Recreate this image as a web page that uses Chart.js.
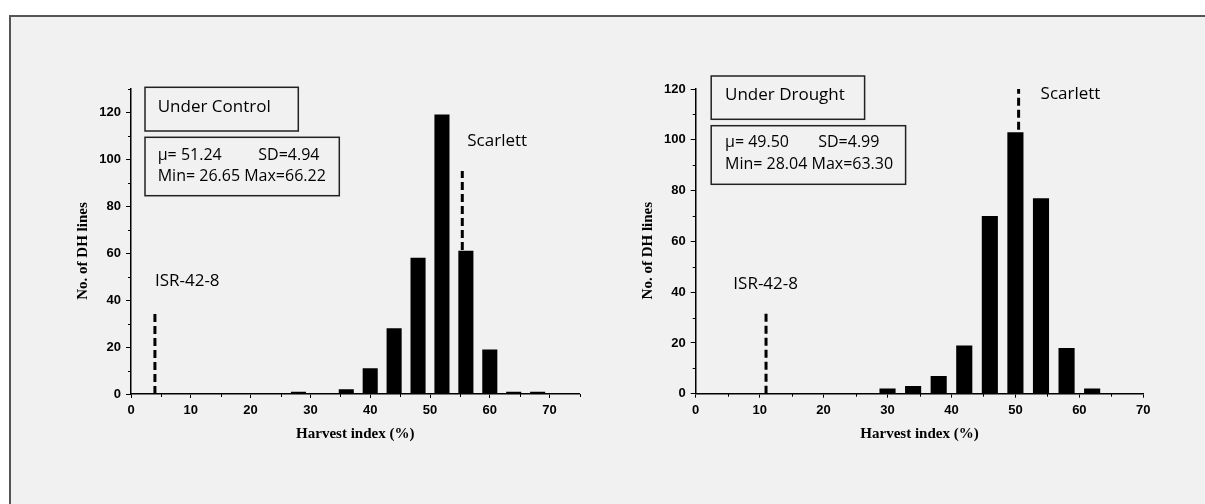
<!DOCTYPE html>
<html>
<head>
<meta charset="utf-8">
<script src="https://cdn.jsdelivr.net/npm/chart.js@4.4.1/dist/chart.umd.min.js"></script>
<style>
  html, body { margin: 0; padding: 0; background: #fff; }
  body { width: 1205px; height: 504px; position: relative; overflow: hidden; }
  #frame {
    position: absolute; left: 9px; top: 15px; right: 0; bottom: 0;
    background: #f1f1f1;
    border-top: 2px solid #555;
    border-left: 2px solid #555;
  }
  canvas { position: absolute; top: 0; }
  #control { left: 0; }
  #drought { left: 600px; }
</style>
</head>
<body>
<div id="frame"></div>
<canvas id="control" width="600" height="504"></canvas>
<canvas id="drought" width="605" height="504"></canvas>
<script>
// harvest index bins (%) and number of DH lines in each
const controlBins = [28, 32, 36, 40, 44, 48, 52, 56, 60, 64, 68];
const controlCounts = [1, 0, 2, 11, 28, 58, 119, 61, 19, 1, 1];
const droughtBins = [30, 34, 38, 42, 46, 50, 54, 58, 62];
const droughtCounts = [2, 3, 7, 19, 70, 103, 77, 18, 2];

// parental lines: harvest index and height of the marker line
const parentNames = ['ISR-42-8', 'Scarlett'];
const controlParentHI = [4, 55.4];
const controlParentTop = [35, 95];
const droughtParentHI = [11, 50.5];
const droughtParentTop = [33, 120];

const controlStats = ['\u03bc= 51.24', 'SD=4.94', 'Min= 26.65 Max=66.22'];
const droughtStats = ['\u03bc= 49.50', 'SD=4.99', 'Min= 28.04 Max=63.30'];

const xTitle = 'Harvest index (%)';
const yTitle = 'No. of DH lines';

const TEXT_FONT = '"Open Sans", sans-serif';
const TICK_FONT = { family: '"Liberation Sans", Arial, sans-serif', size: 13, weight: 'bold' };

function hline(ctx, x1, y1, x2, y2) {
  ctx.beginPath();
  ctx.moveTo(x1, y1);
  ctx.lineTo(x2, y2);
  ctx.stroke();
}

// minor ticks, axis titles, boxed captions and parent labels
const notesPlugin = {
  id: 'notes',
  afterDraw(chart, args, opts) {
    const { ctx, chartArea: area, scales: { x, y } } = chart;
    ctx.save();

    ctx.strokeStyle = '#000';
    ctx.lineWidth = 1;
    for (let v = 5; v <= x.max; v += 10) {
      const px = Math.round(x.getPixelForValue(v)) + 0.5;
      hline(ctx, px, area.bottom, px, area.bottom + 3);
    }
    for (let v = 10; v <= y.max; v += 20) {
      const py = Math.round(y.getPixelForValue(v)) + 0.5;
      hline(ctx, area.left, py, area.left - 3, py);
    }

    ctx.fillStyle = '#000';
    ctx.font = 'bold 15px "Liberation Serif", serif';
    ctx.textAlign = 'center';
    ctx.textBaseline = 'alphabetic';
    ctx.fillText(xTitle, (area.left + area.right) / 2, area.bottom + 44);
    ctx.save();
    ctx.translate(area.left + opts.yTitleDx, area.bottom - 143);
    ctx.rotate(-Math.PI / 2);
    ctx.textBaseline = 'middle';
    ctx.fillText(yTitle, 0, 0);
    ctx.restore();

    // caption boxes
    ctx.strokeStyle = '#222';
    ctx.lineWidth = 1.5;
    const b = opts.boxes;
    ctx.strokeRect(area.left + b.left, area.top + b.titleTop, b.titleWidth, b.titleHeight);
    ctx.strokeRect(area.left + b.left, area.top + b.statsTop, b.statsWidth, b.statsHeight);

    ctx.textAlign = 'left';
    ctx.textBaseline = 'middle';
    ctx.font = '17px ' + TEXT_FONT;
    ctx.fillText(opts.title, area.left + b.textLeft, area.top + b.titleText);
    ctx.font = '16px ' + TEXT_FONT;
    ctx.fillText(opts.stats[0], area.left + b.textLeft, area.top + b.line1);
    ctx.fillText(opts.stats[1], area.left + b.sdLeft, area.top + b.line1);
    ctx.fillText(opts.stats[2], area.left + b.textLeft, area.top + b.line2);

    // parent names beside their marker lines
    ctx.font = '17px ' + TEXT_FONT;
    opts.labels.forEach((lab) => {
      ctx.fillText(lab.text, x.getPixelForValue(lab.x) + lab.dx, y.getPixelForValue(lab.y));
    });

    ctx.restore();
  }
};

function makeHistogram(id, cfg) {
  const bars = cfg.bins.map((b, i) => ({ x: b, y: cfg.counts[i] }));
  const markers = cfg.parentHI.map((hi, i) => ({
    type: 'line',
    data: [{ x: hi, y: 0 }, { x: hi, y: cfg.parentTop[i] }],
    borderColor: '#000',
    borderWidth: 3,
    borderDash: [8, 4],
    borderCapStyle: 'butt',
    pointRadius: 0,
    fill: false,
    order: 2,
    clip: false
  }));

  return new Chart(document.getElementById(id), {
    type: 'bar',
    data: {
      datasets: [{
        type: 'bar',
        data: bars,
        backgroundColor: '#000',
        borderWidth: 0,
        barPercentage: 0.63,
        categoryPercentage: 1,
        order: 1
      }, ...markers]
    },
    options: {
      responsive: false,
      animation: false,
      devicePixelRatio: 1,
      layout: { padding: cfg.padding },
      plugins: {
        legend: { display: false },
        tooltip: { enabled: false },
        notes: cfg.notes
      },
      scales: {
        x: {
          type: 'linear',
          min: 0,
          max: cfg.xMax,
          offset: false,
          grid: { offset: false, drawOnChartArea: false, tickLength: 4, color: '#000' },
          border: { color: '#000', width: 1.5 },
          ticks: {
            stepSize: 10,
            includeBounds: false,
            padding: 5,
            maxRotation: 0,
            autoSkip: false,
            color: '#000',
            font: TICK_FONT
          },
          afterFit: (scale) => { scale.height = cfg.xHeight; }
        },
        y: {
          min: 0,
          max: cfg.yMax,
          grid: { drawOnChartArea: false, tickLength: 5, color: '#000' },
          border: { color: '#000', width: 1.5 },
          ticks: {
            stepSize: 20,
            includeBounds: false,
            padding: 5,
            color: '#000',
            font: TICK_FONT
          },
          afterFit: (scale) => { scale.width = cfg.yWidth; }
        }
      }
    },
    plugins: [notesPlugin]
  });
}

makeHistogram('control', {
  bins: controlBins,
  counts: controlCounts,
  parentHI: controlParentHI,
  parentTop: controlParentTop,
  xMax: 75,
  yMax: 130,
  yWidth: 131,
  xHeight: 110,
  padding: { top: 88.8, right: 20.5, left: 0, bottom: 0 },
  notes: {
    title: 'Under Control',
    stats: controlStats,
    yTitleDx: -48,
    boxes: {
      left: 14, titleTop: -1.5, titleWidth: 153.3, titleHeight: 43.7,
      statsTop: 48.5, statsWidth: 194.3, statsHeight: 58.4,
      textLeft: 26.7, titleText: 17.9, sdLeft: 127.3, line1: 66.9, line2: 87.2
    },
    labels: [
      { text: parentNames[0], x: controlParentHI[0], y: 48, dx: 0 },
      { text: parentNames[1], x: controlParentHI[1], y: 107.5, dx: 5 }
    ]
  }
});

makeHistogram('drought', {
  bins: droughtBins,
  counts: droughtCounts,
  parentHI: droughtParentHI,
  parentTop: droughtParentTop,
  xMax: 70,
  yMax: 120,
  yWidth: 95.7,
  xHeight: 110.3,
  padding: { top: 89.1, right: 61.7, left: 0, bottom: 0 },
  notes: {
    title: 'Under Drought',
    stats: droughtStats,
    yTitleDx: -47.5,
    boxes: {
      left: 15.5, titleTop: -13.1, titleWidth: 153.4, titleHeight: 43.3,
      statsTop: 36.6, statsWidth: 194.4, statsHeight: 58.6,
      textLeft: 29.3, titleText: 5.6, sdLeft: 122.5, line1: 53.2, line2: 75.2
    },
    labels: [
      { text: parentNames[0], x: droughtParentHI[0], y: 43.2, dx: -32.7 },
      { text: parentNames[1], x: droughtParentHI[1], y: 118, dx: 22 }
    ]
  }
});
</script>
</body>
</html>
